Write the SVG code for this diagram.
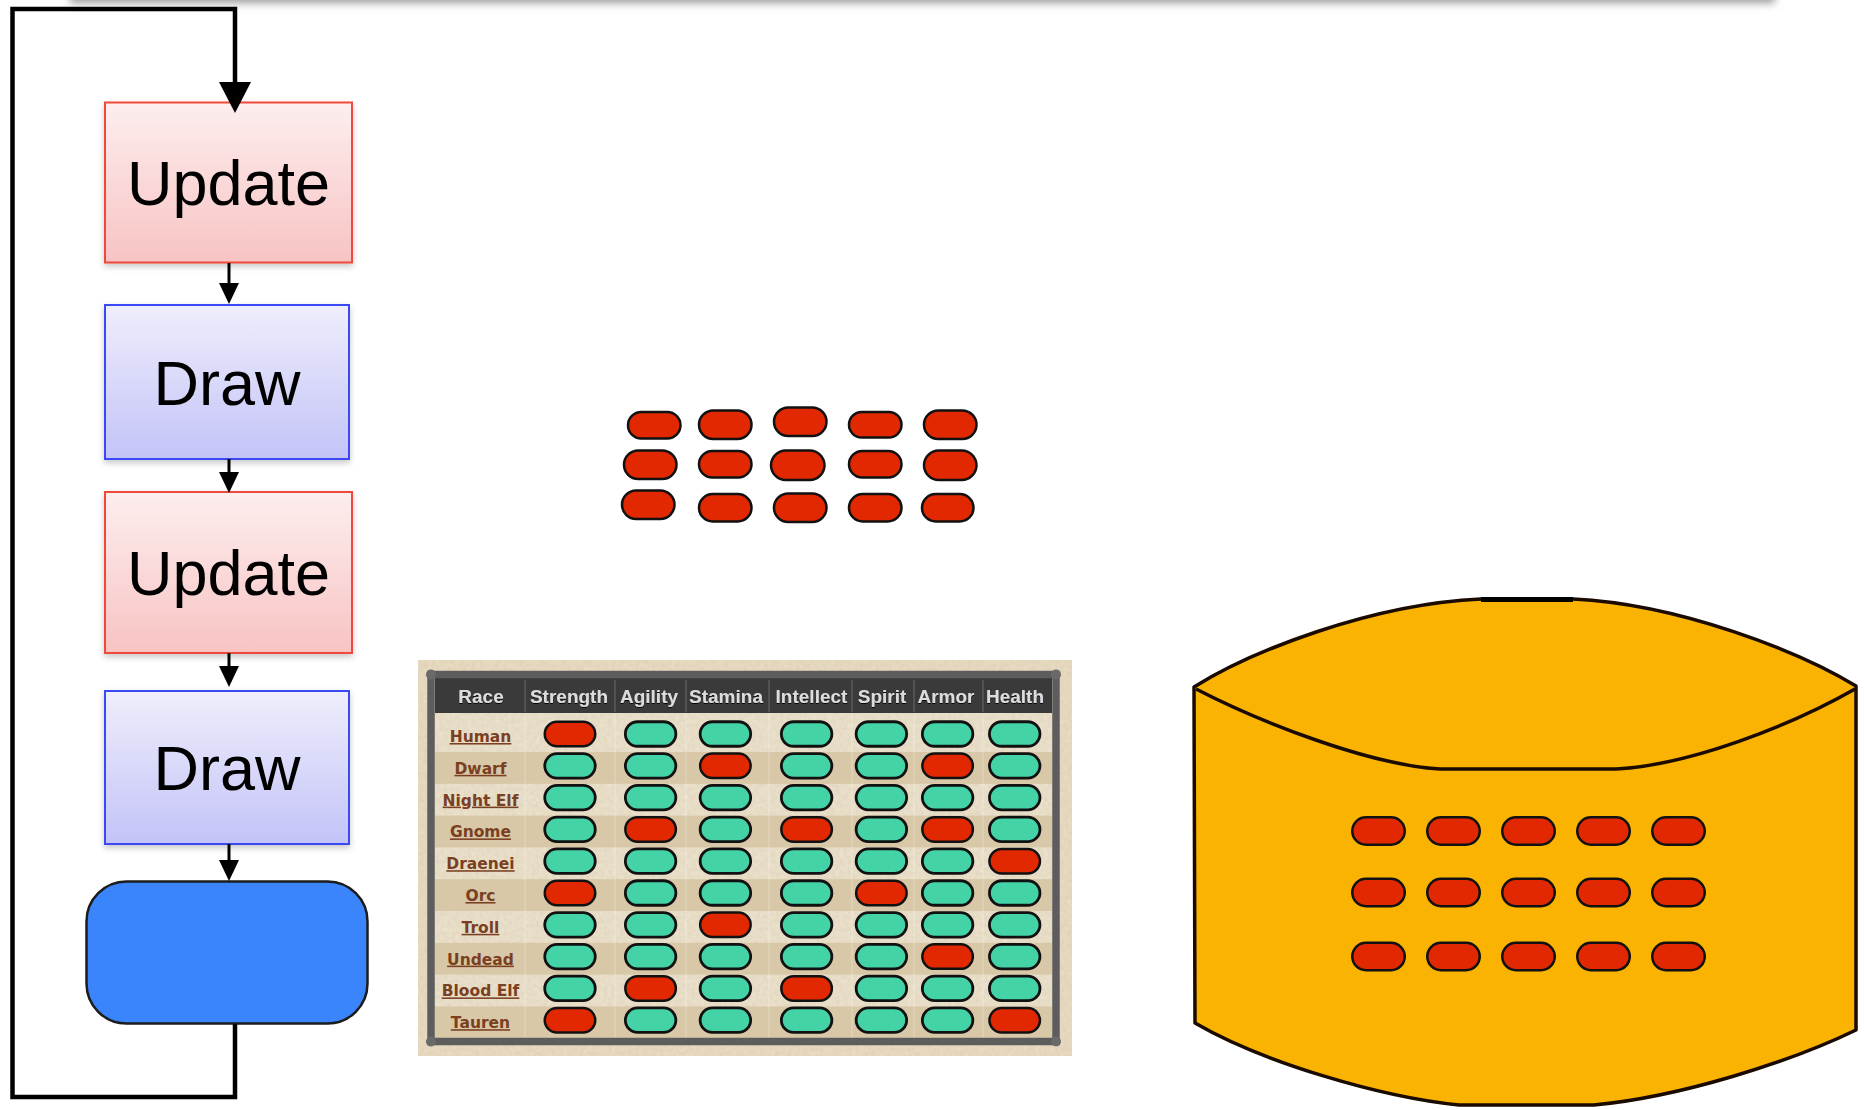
<svg xmlns="http://www.w3.org/2000/svg" width="1864" height="1110" viewBox="0 0 1864 1110">
<style>
.box{stroke-width:2}
.upd{fill:url(#gU);stroke:#ee4a3a}
.drw{fill:url(#gD);stroke:#3a4af2}
.big{font-family:"Liberation Sans",Arial,sans-serif;font-size:63px;fill:#000;text-anchor:middle}
.conn{fill:none;stroke:#000}
.pr{fill:#e12800;stroke:#111;stroke-width:2.5}
.pg{fill:#44d3a7;stroke:#111;stroke-width:2.8}
.hd{font-family:"Liberation Sans",Arial,sans-serif;font-weight:bold;font-size:19px;fill:#dcdcde;text-anchor:middle}
.lb{font-family:"DejaVu Sans",Verdana,sans-serif;font-weight:bold;font-size:15.5px;fill:#7b3f22;text-anchor:middle;text-decoration:underline}
.hdiv{stroke:#5c5b5b;stroke-width:1.5}
.bdiv{stroke:#fff;stroke-opacity:0.3;stroke-width:1}
.dark{fill:#d8c8a7}
</style>
<defs>
<linearGradient id="gU" x1="0" y1="0" x2="0" y2="1"><stop offset="0" stop-color="#fdeeee"/><stop offset="1" stop-color="#f8c3c3"/></linearGradient>
<linearGradient id="gD" x1="0" y1="0" x2="0" y2="1"><stop offset="0" stop-color="#eeeefc"/><stop offset="1" stop-color="#c3c3f8"/></linearGradient>
<filter id="sh" x="-10%" y="-10%" width="120%" height="125%"><feDropShadow dx="0" dy="3" stdDeviation="3" flood-color="#000" flood-opacity="0.22"/></filter>
<filter id="blur" x="-5%" y="-100%" width="110%" height="300%"><feGaussianBlur stdDeviation="4"/></filter>
<filter id="emb" x="-5%" y="-20%" width="110%" height="140%"><feDropShadow dx="0" dy="1" stdDeviation="0.6" flood-color="#000" flood-opacity="0.9"/></filter>
<filter id="paper" x="0" y="0" width="100%" height="100%"><feTurbulence type="fractalNoise" baseFrequency="0.25" numOctaves="2" seed="3" result="n"/><feColorMatrix in="n" type="matrix" values="0 0 0 0 0.5  0 0 0 0 0.42  0 0 0 0 0.3  0 0 0 0.35 0" result="c"/><feComposite in="c" in2="SourceGraphic" operator="in" result="t"/><feMerge><feMergeNode in="SourceGraphic"/><feMergeNode in="t"/></feMerge></filter>
<marker id="mBig" markerUnits="userSpaceOnUse" markerWidth="32" markerHeight="32" viewBox="0 0 31 32" refX="0" refY="16" orient="auto"><path d="M0,0 L31,16 L0,32 Z" fill="#000"/></marker>
<marker id="mSm" markerUnits="userSpaceOnUse" markerWidth="21" markerHeight="20" viewBox="0 0 21 20" refX="0" refY="10" orient="auto"><path d="M0,0 L21,10 L0,20 Z" fill="#000"/></marker>
</defs>
<rect width="1864" height="1110" fill="#fff"/>
<rect x="70" y="-14" width="1705" height="17" fill="#9a9a9a" filter="url(#blur)"/>

<g id="update1" filter="url(#sh)"><rect class="box upd" x="105" y="102.5" width="247" height="160"/><text class="big" x="228.5" y="205">Update</text></g>
<g id="draw1" filter="url(#sh)"><rect class="box drw" x="105" y="305" width="244" height="154"/><text class="big" x="227" y="405">Draw</text></g>
<g id="update2" filter="url(#sh)"><rect class="box upd" x="105" y="492" width="247" height="161"/><text class="big" x="228.5" y="594.5">Update</text></g>
<g id="draw2" filter="url(#sh)"><rect class="box drw" x="105" y="691" width="244" height="153"/><text class="big" x="227" y="790">Draw</text></g>
<g id="loopend"><rect x="86.5" y="881.5" width="281" height="142" rx="40" ry="40" fill="#3a85fb" stroke="#1c1c1c" stroke-width="2.5"/></g>

<g id="connectors">
<path class="conn" d="M235,1024 V1097 H12.5 V9 H235 V82" stroke-width="4.5" marker-end="url(#mBig)"/>
<path class="conn" d="M229,263 V283" stroke-width="3" marker-end="url(#mSm)"/>
<path class="conn" d="M229,459 V472" stroke-width="3" marker-end="url(#mSm)"/>
<path class="conn" d="M229,653 V666" stroke-width="3" marker-end="url(#mSm)"/>
<path class="conn" d="M229,844 V860" stroke-width="3" marker-end="url(#mSm)"/>
</g>

<g id="loose-pills">
<rect class="pr" x="628" y="412" width="52.5" height="26.5" rx="13.25"/>
<rect class="pr" x="699" y="410.5" width="52.5" height="28.5" rx="14.25"/>
<rect class="pr" x="774" y="407.5" width="52.5" height="28.5" rx="14.25"/>
<rect class="pr" x="849" y="412" width="52.5" height="25.5" rx="12.75"/>
<rect class="pr" x="924" y="410.5" width="52.5" height="28.5" rx="14.25"/>
<rect class="pr" x="624" y="450.5" width="52.5" height="28.5" rx="14.25"/>
<rect class="pr" x="699" y="451" width="52.5" height="26.5" rx="13.25"/>
<rect class="pr" x="771" y="450.5" width="53.5" height="29.5" rx="14.75"/>
<rect class="pr" x="849" y="451" width="52.5" height="26.5" rx="13.25"/>
<rect class="pr" x="924" y="450.5" width="52.5" height="29.5" rx="14.75"/>
<rect class="pr" x="622" y="490.5" width="52.5" height="28.5" rx="14.25"/>
<rect class="pr" x="699" y="494" width="52.5" height="27.5" rx="13.75"/>
<rect class="pr" x="774" y="493.5" width="52.5" height="28.5" rx="14.25"/>
<rect class="pr" x="849" y="494" width="52.5" height="27.5" rx="13.75"/>
<rect class="pr" x="922" y="494" width="51.5" height="27.5" rx="13.75"/>
</g>

<g id="stats-table">
<rect x="418" y="660" width="654" height="396" fill="#ecdfc4" filter="url(#paper)"/>
<rect x="435" y="713" width="617" height="325" fill="#efe5cf" filter="url(#paper)"/>
<rect class="dark" x="435" y="752" width="617" height="31.8"/>
<rect class="dark" x="435" y="815.6" width="617" height="31.8"/>
<rect class="dark" x="435" y="879.2" width="617" height="31.8"/>
<rect class="dark" x="435" y="942.8" width="617" height="31.8"/>
<rect class="dark" x="435" y="1006.4" width="617" height="31.8"/>
<g>
<line class="bdiv" x1="525" y1="713" x2="525" y2="1038"/><line class="bdiv" x1="615" y1="713" x2="615" y2="1038"/><line class="bdiv" x1="686" y1="713" x2="686" y2="1038"/><line class="bdiv" x1="769" y1="713" x2="769" y2="1038"/><line class="bdiv" x1="852" y1="713" x2="852" y2="1038"/><line class="bdiv" x1="914" y1="713" x2="914" y2="1038"/><line class="bdiv" x1="983" y1="713" x2="983" y2="1038"/>
</g>
<rect x="435" y="678" width="617" height="35" fill="#3b3a3a"/>
<g>
<line class="hdiv" x1="525" y1="680" x2="525" y2="712"/><line class="hdiv" x1="615" y1="680" x2="615" y2="712"/><line class="hdiv" x1="686" y1="680" x2="686" y2="712"/><line class="hdiv" x1="769" y1="680" x2="769" y2="712"/><line class="hdiv" x1="852" y1="680" x2="852" y2="712"/><line class="hdiv" x1="914" y1="680" x2="914" y2="712"/><line class="hdiv" x1="983" y1="680" x2="983" y2="712"/>
</g>
<rect x="431" y="674.5" width="625" height="367" fill="none" stroke="#5d5d5d" stroke-width="7.5"/>
<g fill="#6a6a6a"><circle cx="431" cy="674.5" r="5"/><circle cx="1056" cy="674.5" r="5"/><circle cx="431" cy="1041.5" r="5"/><circle cx="1056" cy="1041.5" r="5"/></g>
<g class="hd-row" filter="url(#emb)">
<text class="hd" x="481" y="703">Race</text><text class="hd" x="569" y="703">Strength</text><text class="hd" x="649" y="703">Agility</text><text class="hd" x="726" y="703">Stamina</text><text class="hd" x="811.5" y="703">Intellect</text><text class="hd" x="882" y="703">Spirit</text><text class="hd" x="946" y="703">Armor</text><text class="hd" x="1015" y="703">Health</text>
</g>
<g>
<text class="lb" x="480.5" y="742">Human</text>
<text class="lb" x="480.5" y="773.8">Dwarf</text>
<text class="lb" x="480.5" y="805.6">Night Elf</text>
<text class="lb" x="480.5" y="837.4">Gnome</text>
<text class="lb" x="480.5" y="869.2">Draenei</text>
<text class="lb" x="480.5" y="901">Orc</text>
<text class="lb" x="480.5" y="932.8">Troll</text>
<text class="lb" x="480.5" y="964.6">Undead</text>
<text class="lb" x="480.5" y="996.4">Blood Elf</text>
<text class="lb" x="480.5" y="1028.2">Tauren</text>
</g>
<g transform="translate(0,721.75)">
<rect class="pr" x="544.75" width="50.5" height="24.5" rx="12.25"/><rect class="pg" x="625.35" width="50.5" height="24.5" rx="12.25"/><rect class="pg" x="700.15" width="50.5" height="24.5" rx="12.25"/><rect class="pg" x="781.35" width="50.5" height="24.5" rx="12.25"/><rect class="pg" x="856.15" width="50.5" height="24.5" rx="12.25"/><rect class="pg" x="922.35" width="50.5" height="24.5" rx="12.25"/><rect class="pg" x="989.45" width="50.5" height="24.5" rx="12.25"/>
</g>
<g transform="translate(0,753.55)">
<rect class="pg" x="544.75" width="50.5" height="24.5" rx="12.25"/><rect class="pg" x="625.35" width="50.5" height="24.5" rx="12.25"/><rect class="pr" x="700.15" width="50.5" height="24.5" rx="12.25"/><rect class="pg" x="781.35" width="50.5" height="24.5" rx="12.25"/><rect class="pg" x="856.15" width="50.5" height="24.5" rx="12.25"/><rect class="pr" x="922.35" width="50.5" height="24.5" rx="12.25"/><rect class="pg" x="989.45" width="50.5" height="24.5" rx="12.25"/>
</g>
<g transform="translate(0,785.35)">
<rect class="pg" x="544.75" width="50.5" height="24.5" rx="12.25"/><rect class="pg" x="625.35" width="50.5" height="24.5" rx="12.25"/><rect class="pg" x="700.15" width="50.5" height="24.5" rx="12.25"/><rect class="pg" x="781.35" width="50.5" height="24.5" rx="12.25"/><rect class="pg" x="856.15" width="50.5" height="24.5" rx="12.25"/><rect class="pg" x="922.35" width="50.5" height="24.5" rx="12.25"/><rect class="pg" x="989.45" width="50.5" height="24.5" rx="12.25"/>
</g>
<g transform="translate(0,817.15)">
<rect class="pg" x="544.75" width="50.5" height="24.5" rx="12.25"/><rect class="pr" x="625.35" width="50.5" height="24.5" rx="12.25"/><rect class="pg" x="700.15" width="50.5" height="24.5" rx="12.25"/><rect class="pr" x="781.35" width="50.5" height="24.5" rx="12.25"/><rect class="pg" x="856.15" width="50.5" height="24.5" rx="12.25"/><rect class="pr" x="922.35" width="50.5" height="24.5" rx="12.25"/><rect class="pg" x="989.45" width="50.5" height="24.5" rx="12.25"/>
</g>
<g transform="translate(0,848.95)">
<rect class="pg" x="544.75" width="50.5" height="24.5" rx="12.25"/><rect class="pg" x="625.35" width="50.5" height="24.5" rx="12.25"/><rect class="pg" x="700.15" width="50.5" height="24.5" rx="12.25"/><rect class="pg" x="781.35" width="50.5" height="24.5" rx="12.25"/><rect class="pg" x="856.15" width="50.5" height="24.5" rx="12.25"/><rect class="pg" x="922.35" width="50.5" height="24.5" rx="12.25"/><rect class="pr" x="989.45" width="50.5" height="24.5" rx="12.25"/>
</g>
<g transform="translate(0,880.75)">
<rect class="pr" x="544.75" width="50.5" height="24.5" rx="12.25"/><rect class="pg" x="625.35" width="50.5" height="24.5" rx="12.25"/><rect class="pg" x="700.15" width="50.5" height="24.5" rx="12.25"/><rect class="pg" x="781.35" width="50.5" height="24.5" rx="12.25"/><rect class="pr" x="856.15" width="50.5" height="24.5" rx="12.25"/><rect class="pg" x="922.35" width="50.5" height="24.5" rx="12.25"/><rect class="pg" x="989.45" width="50.5" height="24.5" rx="12.25"/>
</g>
<g transform="translate(0,912.55)">
<rect class="pg" x="544.75" width="50.5" height="24.5" rx="12.25"/><rect class="pg" x="625.35" width="50.5" height="24.5" rx="12.25"/><rect class="pr" x="700.15" width="50.5" height="24.5" rx="12.25"/><rect class="pg" x="781.35" width="50.5" height="24.5" rx="12.25"/><rect class="pg" x="856.15" width="50.5" height="24.5" rx="12.25"/><rect class="pg" x="922.35" width="50.5" height="24.5" rx="12.25"/><rect class="pg" x="989.45" width="50.5" height="24.5" rx="12.25"/>
</g>
<g transform="translate(0,944.35)">
<rect class="pg" x="544.75" width="50.5" height="24.5" rx="12.25"/><rect class="pg" x="625.35" width="50.5" height="24.5" rx="12.25"/><rect class="pg" x="700.15" width="50.5" height="24.5" rx="12.25"/><rect class="pg" x="781.35" width="50.5" height="24.5" rx="12.25"/><rect class="pg" x="856.15" width="50.5" height="24.5" rx="12.25"/><rect class="pr" x="922.35" width="50.5" height="24.5" rx="12.25"/><rect class="pg" x="989.45" width="50.5" height="24.5" rx="12.25"/>
</g>
<g transform="translate(0,976.15)">
<rect class="pg" x="544.75" width="50.5" height="24.5" rx="12.25"/><rect class="pr" x="625.35" width="50.5" height="24.5" rx="12.25"/><rect class="pg" x="700.15" width="50.5" height="24.5" rx="12.25"/><rect class="pr" x="781.35" width="50.5" height="24.5" rx="12.25"/><rect class="pg" x="856.15" width="50.5" height="24.5" rx="12.25"/><rect class="pg" x="922.35" width="50.5" height="24.5" rx="12.25"/><rect class="pg" x="989.45" width="50.5" height="24.5" rx="12.25"/>
</g>
<g transform="translate(0,1007.95)">
<rect class="pr" x="544.75" width="50.5" height="24.5" rx="12.25"/><rect class="pg" x="625.35" width="50.5" height="24.5" rx="12.25"/><rect class="pg" x="700.15" width="50.5" height="24.5" rx="12.25"/><rect class="pg" x="781.35" width="50.5" height="24.5" rx="12.25"/><rect class="pg" x="856.15" width="50.5" height="24.5" rx="12.25"/><rect class="pg" x="922.35" width="50.5" height="24.5" rx="12.25"/><rect class="pr" x="989.45" width="50.5" height="24.5" rx="12.25"/>
</g>
</g>

<g id="cylinder">
<path d="M1194,687 C1250,652 1370,604 1481,599 L1573,599 C1680,604 1800,652 1856,686 L1856,1030 C1790,1062 1680,1097 1594,1105 L1459,1105 C1380,1097 1262,1062 1195,1023 Z" fill="#f9b300" stroke="#1a0a00" stroke-width="3.5" stroke-linejoin="round"/>
<path d="M1196,689 C1262,723 1370,765 1440,769 L1616,769 C1690,765 1790,726 1855,689" fill="none" stroke="#1a0a00" stroke-width="3.5"/>
<path d="M1481,599.5 L1573,599.5" stroke="#000" stroke-width="5"/>
<g>
<rect class="pr" x="1352.25" y="817.25" width="52.5" height="27.5" rx="13.75"/><rect class="pr" x="1427.25" y="817.25" width="52.5" height="27.5" rx="13.75"/><rect class="pr" x="1502.25" y="817.25" width="52.5" height="27.5" rx="13.75"/><rect class="pr" x="1577.25" y="817.25" width="52.5" height="27.5" rx="13.75"/><rect class="pr" x="1652.25" y="817.25" width="52.5" height="27.5" rx="13.75"/>
<rect class="pr" x="1352.25" y="878.75" width="52.5" height="27.5" rx="13.75"/><rect class="pr" x="1427.25" y="878.75" width="52.5" height="27.5" rx="13.75"/><rect class="pr" x="1502.25" y="878.75" width="52.5" height="27.5" rx="13.75"/><rect class="pr" x="1577.25" y="878.75" width="52.5" height="27.5" rx="13.75"/><rect class="pr" x="1652.25" y="878.75" width="52.5" height="27.5" rx="13.75"/>
<rect class="pr" x="1352.25" y="942.75" width="52.5" height="27.5" rx="13.75"/><rect class="pr" x="1427.25" y="942.75" width="52.5" height="27.5" rx="13.75"/><rect class="pr" x="1502.25" y="942.75" width="52.5" height="27.5" rx="13.75"/><rect class="pr" x="1577.25" y="942.75" width="52.5" height="27.5" rx="13.75"/><rect class="pr" x="1652.25" y="942.75" width="52.5" height="27.5" rx="13.75"/>
</g>
</g>
</svg>
